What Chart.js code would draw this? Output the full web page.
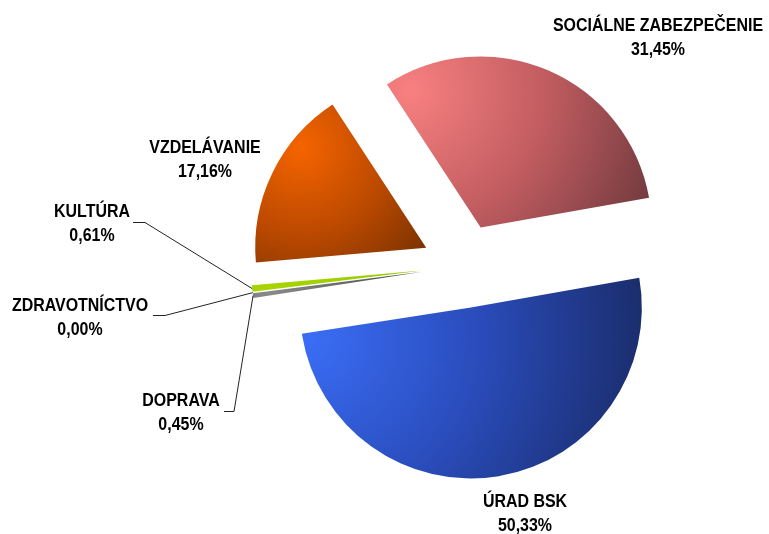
<!DOCTYPE html>
<html>
<head>
<meta charset="utf-8">
<script src="https://cdn.jsdelivr.net/npm/chart.js@4.4.1/dist/chart.umd.min.js"></script>
<style>
  html, body { margin: 0; padding: 0; background: #fff; }
  #wrap { width: 769px; height: 534px; }
</style>
</head>
<body>
<div id="wrap"><canvas id="pieChart" width="769" height="534"></canvas></div>
<script>
// ---- data ----
const categories = ["ÚRAD BSK", "DOPRAVA", "ZDRAVOTNÍCTVO", "KULTÚRA", "VZDELÁVANIE", "SOCIÁLNE ZABEZPEČENIE"];
const shares = [50.33, 0.45, 0.00, 0.61, 17.16, 31.45];
const shareLabels = ["50,33%", "0,45%", "0,00%", "0,61%", "17,16%", "31,45%"];

// ---- look ----
const R = 171;
const ROTATION = 80;           // degrees, chart.js starts at 12 o'clock
const EXPLODE = 42;            // px every slice is pulled out
const FONT = "bold 19px 'Liberation Sans Narrow', 'Arial Narrow', 'Liberation Sans', sans-serif";
const SQUEEZE = 0.84;          // fake the narrow face

// radial shading per slice: highlight point (R units from slice tip) + colour stops
const shading = [
    { hx: -0.95, hy: 0.19, r: 2.0, stops: ["#3a6df5", "#2a4cbb", "#1a2c6a"] },
    { hx: -0.90, hy: 0.10, r: 1.4, stops: ["#8a8a8a", "#555555", "#333333"] },
    { hx: -0.90, hy: 0.10, r: 1.4, stops: ["#cccccc", "#999999", "#666666"] },
    { hx: -0.90, hy: 0.10, r: 1.4, stops: ["#a8d400", "#99cc00", "#88b800"] },
    { hx: -0.73, hy: -0.58, r: 1.05, stops: ["#f56400", "#b84800", "#6a2c00"] },
    { hx: -0.41, hy: -0.80, r: 1.6, stops: ["#f88080", "#c05c60", "#6c383c"] }
];

// text placement: centre x, baseline of first line, optional leader start [x, y, x2]
const labelPlace = [
    { x: 525, y: 507 },
    { x: 181, y: 406, lead: [224, 411, 234] },
    { x: 80, y: 311, lead: [153, 315, 165] },
    { x: 92, y: 217, lead: [133, 222, 145] },
    { x: 205, y: 153 },
    { x: 658, y: 31 }
];

function midAngle(i) {
    const total = shares.reduce((a, b) => a + b, 0);
    let start = -Math.PI / 2 + ROTATION * Math.PI / 180;
    for (let k = 0; k < i; k++) start += shares[k] / total * 2 * Math.PI;
    return start + shares[i] / total * Math.PI;
}

function sliceFill(context) {
    const chart = context.chart;
    const area = chart.chartArea;
    const i = context.dataIndex;
    const s = shading[i];
    if (!area) return s.stops[1];
    const m = midAngle(i);
    const cx = (area.left + area.right) / 2 + Math.cos(m) * EXPLODE;
    const cy = (area.top + area.bottom) / 2 + Math.sin(m) * EXPLODE;
    const hx = cx + s.hx * R, hy = cy + s.hy * R;
    const g = chart.ctx.createRadialGradient(hx, hy, 0, hx, hy, s.r * R);
    g.addColorStop(0, s.stops[0]);
    g.addColorStop(0.5, s.stops[1]);
    g.addColorStop(1, s.stops[2]);
    return g;
}

// pull each slice out along its own middle angle
const explode = {
    id: 'explode',
    beforeDatasetsDraw(chart) {
        const area = chart.chartArea;
        const cx = (area.left + area.right) / 2;
        const cy = (area.top + area.bottom) / 2;
        chart.getDatasetMeta(0).data.forEach(arc => {
            const m = (arc.startAngle + arc.endAngle) / 2;
            arc.x = cx + Math.cos(m) * EXPLODE;
            arc.y = cy + Math.sin(m) * EXPLODE;
        });
    }
};

function squeezedText(ctx, text, x, y) {
    ctx.save();
    ctx.translate(x, y);
    ctx.scale(SQUEEZE, 1);
    ctx.fillText(text, 0, 0);
    ctx.restore();
}

const sliceLabels = {
    id: 'sliceLabels',
    afterDatasetsDraw(chart) {
        const ctx = chart.ctx;
        const meta = chart.getDatasetMeta(0);
        ctx.save();
        ctx.font = FONT;
        ctx.fillStyle = "#000";
        ctx.textAlign = "center";
        ctx.textBaseline = "alphabetic";
        meta.data.forEach((arc, i) => {
            const p = labelPlace[i];
            squeezedText(ctx, categories[i], p.x, p.y);
            squeezedText(ctx, shareLabels[i], p.x, p.y + 24);
            if (p.lead) {
                const mid = (arc.startAngle + arc.endAngle) / 2;
                const tx = arc.x + Math.cos(mid) * arc.outerRadius;
                const ty = arc.y + Math.sin(mid) * arc.outerRadius;
                ctx.strokeStyle = "#222";
                ctx.lineWidth = 1;
                ctx.beginPath();
                ctx.moveTo(p.lead[0], p.lead[1] + 0.5);
                ctx.lineTo(p.lead[2], p.lead[1] + 0.5);
                ctx.lineTo(tx, ty);
                ctx.stroke();
            }
        });
        ctx.restore();
    }
};

new Chart(document.getElementById('pieChart'), {
    type: 'pie',
    data: {
        labels: categories,
        datasets: [{
            data: shares,
            backgroundColor: sliceFill,
            borderWidth: 0
        }]
    },
    options: {
        responsive: false,
        animation: false,
        radius: R,
        rotation: ROTATION,
        layout: { padding: { left: 159, right: 0, top: 0, bottom: 2 } },
        plugins: {
            legend: { display: false },
            tooltip: { enabled: false }
        }
    },
    plugins: [explode, sliceLabels]
});
</script>
</body>
</html>
